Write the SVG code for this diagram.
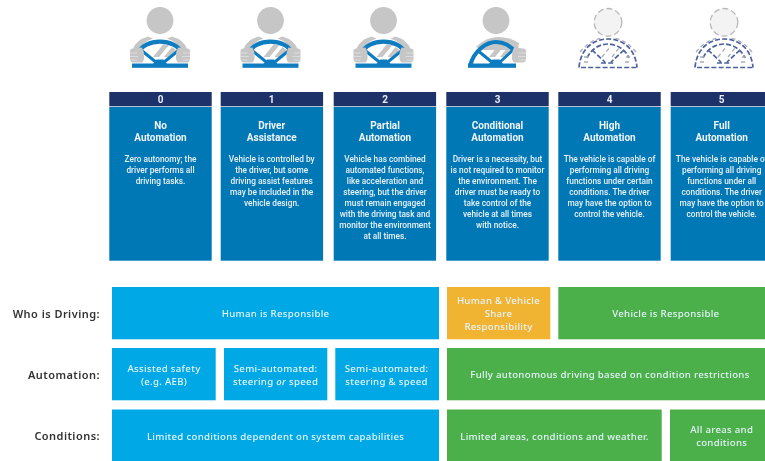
<svg xmlns="http://www.w3.org/2000/svg" width="765" height="461" viewBox="0 0 765 461">
<style>
.hd{fill:#1f3068}
.bd{fill:#0578b5}
.num{font:700 10px Roboto,"Liberation Sans",sans-serif;fill:#e8eef6;text-anchor:middle}
.tt{font:700 10px Roboto,"Liberation Sans",sans-serif;fill:#eef5fa;text-anchor:middle}
.tx{font:500 8.3px Roboto,"Liberation Sans",sans-serif;fill:#e6f1f8;text-anchor:middle}
.lb{font:600 11px "Noto Sans","Liberation Sans",sans-serif;letter-spacing:.45px;fill:#333;text-anchor:end}
.bt{font:500 9.65px "Noto Sans","Liberation Sans",sans-serif;letter-spacing:.3px;fill:#e4f4fb;text-anchor:middle}
.sky{fill:#00a9e6}.grn{fill:#4cb04a}.org{fill:#f0b433}
.gr{fill:#c6c6c6}
.wl{fill:none;stroke:#0f7cc0;stroke-width:4.200}
.sp{fill:none;stroke:#0f7cc0;stroke-width:3}
.ds{fill:none;stroke:#4d61a0;stroke-width:1.700;stroke-dasharray:5 2.200}
.dg{fill:none;stroke:#a9adba;stroke-width:1.300;stroke-dasharray:4 3}
</style>
<defs>
<filter id="soft" x="-2%" y="-2%" width="104%" height="104%"><feGaussianBlur stdDeviation="0.3"/></filter>
<g id="hand">
<path class="gr" d="M-30 51Q-30 48.500-27 48.500L-18 47.500Q-15.500 52-16 56Q-15.500 60-18 62.500L-27 62.500Q-30 62-30 59Z"/>
<path d="M-30 53H-23M-30 56.500H-22M-30 60H-23" stroke="#e2e2e2" stroke-width=".8" fill="none"/>
</g>
<g id="shoulder">
<path class="gr" d="M-27 49Q-24 40-12 36.500L-7 38.500Q-17 42-20.500 50Z"/>
</g>
<g id="dr">
<circle class="gr" cx="0" cy="20.500" r="13.400"/>
<use href="#shoulder"/>
<use href="#shoulder" transform="scale(-1 1)"/>
<path class="gr" d="M-7 57L3 44.500L9 45L-1 57ZM4 57L12 47L16 50L10 57Z"/>
<path class="wl" d="M-22 54C-16 37.500 16 37.500 22 54"/>
<path class="sp" d="M-19 50L-3 63M19 50L3 63"/>
<path fill="#0f7cc0" d="M-7 64L-3.500 59.500H3.500L7 64Z"/>
<rect x="-28" y="63.500" width="56" height="4.300" fill="#0f7cc0"/>
<use href="#hand"/>
<use href="#hand" transform="scale(-1 1)"/>
</g>
<g id="dr3">
<circle class="gr" cx="0" cy="20.500" r="13.400"/>
<path class="gr" d="M-20 47Q-10 37 2 37Q14 37 23 43L22 50L-14 50Z"/>
<path class="gr" d="M-7 57L3 44.500L9 45L-1 57ZM4 57L12 47L16 50L10 57Z"/>
<path class="wl" d="M-26 66C-22 50-9 42 0 42C8 42 15 46 20 53" />
<path class="sp" d="M-19 50L-3 63M17 50L3 63"/>
<path fill="#0f7cc0" d="M-7 64L-3.500 59.500H3.500L7 64Z"/>
<rect x="-28" y="63.500" width="48" height="4.300" fill="#0f7cc0"/>
<use href="#hand" transform="scale(-1 1)"/>
</g>
<g id="ghost">
<circle cx="0" cy="22.300" r="13.800" fill="#f3f3f3" stroke="#b9b9b9" stroke-width="1.300" stroke-dasharray="6 3"/>
<path class="ds" d="M-29 67.500C-27 46-12 39 0 39C12 39 27 46 29 67.500"/>
<path class="ds" d="M-27 67.500H29"/>
<path class="dg" d="M-28 52Q-18 40-6 38M28 52Q18 40 6 38"/>
<path class="ds" d="M-21 58C-16 47-6 44 0 44C6 44 16 47 21 58"/>
<path class="dg" d="M-24 62H-17M17 62H24M-24 57H-18M18 57H24"/>
<path class="ds" d="M-16 50L-3 62M16 50L3 62M-7 63H7"/>
<path class="dg" d="M-6 57L3 46M4 57L11 48"/>
</g>
</defs>
<g filter="url(#soft)">
<g id="driver-0"><use href="#dr" x="160"/></g>
<g id="driver-1"><use href="#dr" x="270.500"/></g>
<g id="driver-2"><use href="#dr" x="383.500"/></g>
<g id="driver-3"><use href="#dr3" x="496"/></g>
<g id="driver-4"><use href="#ghost" x="608"/></g>
<g id="driver-5"><use href="#ghost" x="724"/></g>

<g id="level-0">
<rect class="hd" x="109.300" y="92" width="102.400" height="14.300"/><rect class="bd" x="109.300" y="107" width="102.400" height="153.700"/>
<text class="num" x="160.500" y="103">0</text>
<text class="tt" x="160.500" y="129">No</text><text class="tt" x="160.500" y="141">Automation</text>
<text class="tx" x="160.500" y="161.500">Zero autonomy; the</text><text class="tx" x="160.500" y="172.600">driver performs all</text><text class="tx" x="160.500" y="183.700">driving tasks.</text>
</g>
<g id="level-1">
<rect class="hd" x="220.700" y="92" width="102.400" height="14.300"/><rect class="bd" x="220.700" y="107" width="102.400" height="153.700"/>
<text class="num" x="271.700" y="103">1</text>
<text class="tt" x="271.700" y="129">Driver</text><text class="tt" x="271.700" y="141">Assistance</text>
<text class="tx" x="271.700" y="161.500">Vehicle is controlled by</text><text class="tx" x="271.700" y="172.600">the driver, but some</text><text class="tx" x="271.700" y="183.700">driving assist features</text><text class="tx" x="271.700" y="194.800">may be included in the</text><text class="tx" x="271.700" y="205.900">vehicle design.</text>
</g>
<g id="level-2">
<rect class="hd" x="333.700" y="92" width="102.400" height="14.300"/><rect class="bd" x="333.700" y="107" width="102.400" height="153.700"/>
<text class="num" x="385" y="103">2</text>
<text class="tt" x="385" y="129">Partial</text><text class="tt" x="385" y="141">Automation</text>
<text class="tx" x="385" y="161.500">Vehicle has combined</text><text class="tx" x="385" y="172.600">automated functions,</text><text class="tx" x="385" y="183.700">like acceleration and</text><text class="tx" x="385" y="194.800">steering, but the driver</text><text class="tx" x="385" y="205.900">must remain engaged</text><text class="tx" x="385" y="217">with the driving task and</text><text class="tx" x="385" y="228.100">monitor the environment</text><text class="tx" x="385" y="239.200">at all times.</text>
</g>
<g id="level-3">
<rect class="hd" x="446.300" y="92" width="102.400" height="14.300"/><rect class="bd" x="446.300" y="107" width="102.400" height="153.700"/>
<text class="num" x="497.500" y="103">3</text>
<text class="tt" x="497.500" y="129">Conditional</text><text class="tt" x="497.500" y="141">Automation</text>
<text class="tx" x="497.500" y="161.500">Driver is a necessity, but</text><text class="tx" x="497.500" y="172.600">is not required to monitor</text><text class="tx" x="497.500" y="183.700">the environment. The</text><text class="tx" x="497.500" y="194.800">driver must be ready to</text><text class="tx" x="497.500" y="205.900">take control of the</text><text class="tx" x="497.500" y="217">vehicle at all times</text><text class="tx" x="497.500" y="228.100">with notice.</text>
</g>
<g id="level-4">
<rect class="hd" x="558.300" y="92" width="102.400" height="14.300"/><rect class="bd" x="558.300" y="107" width="102.400" height="153.700"/>
<text class="num" x="609.500" y="103">4</text>
<text class="tt" x="609.500" y="129">High</text><text class="tt" x="609.500" y="141">Automation</text>
<text class="tx" x="609.500" y="161.500">The vehicle is capable of</text><text class="tx" x="609.500" y="172.600">performing all driving</text><text class="tx" x="609.500" y="183.700">functions under certain</text><text class="tx" x="609.500" y="194.800">conditions. The driver</text><text class="tx" x="609.500" y="205.900">may have the option to</text><text class="tx" x="609.500" y="217">control the vehicle.</text>
</g>
<g id="level-5">
<rect class="hd" x="670.700" y="92" width="102.400" height="14.300"/><rect class="bd" x="670.700" y="107" width="102.400" height="153.700"/>
<text class="num" x="721.700" y="103">5</text>
<text class="tt" x="721.700" y="129">Full</text><text class="tt" x="721.700" y="141">Automation</text>
<text class="tx" x="721.700" y="161.500">The vehicle is capable of</text><text class="tx" x="721.700" y="172.600">performing all driving</text><text class="tx" x="721.700" y="183.700">functions under all</text><text class="tx" x="721.700" y="194.800">conditions. The driver</text><text class="tx" x="721.700" y="205.900">may have the option to</text><text class="tx" x="721.700" y="217">control the vehicle.</text>
</g>

<g id="row-labels">
<text class="lb" x="100" y="317.500">Who is Driving:</text>
<text class="lb" x="100" y="379">Automation:</text>
<text class="lb" x="100" y="440">Conditions:</text>
</g>
<g id="who-human"><rect class="sky" x="112" y="287" width="327" height="52.300"/><text class="bt" x="275.600" y="316.500">Human is Responsible</text></g>
<g id="who-shared"><rect class="org" x="447" y="287" width="103.300" height="52.300"/><text class="bt" x="498.500" y="304">Human &amp; Vehicle</text><text class="bt" x="498.500" y="317">Share</text><text class="bt" x="498.500" y="330">Responsibility</text></g>
<g id="who-vehicle"><rect class="grn" x="558.300" y="287" width="210" height="52.300"/><text class="bt" x="665.800" y="316.500">Vehicle is Responsible</text></g>
<g id="auto-safety"><rect class="sky" x="112" y="348" width="103.700" height="52.300"/><text class="bt" x="164" y="372">Assisted safety</text><text class="bt" x="164" y="385">(e.g. AEB)</text></g>
<g id="auto-semi-or"><rect class="sky" x="224" y="348" width="103.300" height="52.300"/><text class="bt" x="275.600" y="372">Semi-automated:</text><text class="bt" x="275.600" y="385">steering <tspan font-style="italic">or</tspan> speed</text></g>
<g id="auto-semi-and"><rect class="sky" x="335.300" y="348" width="103.700" height="52.300"/><text class="bt" x="386.500" y="372">Semi-automated:</text><text class="bt" x="386.500" y="385">steering &amp; speed</text></g>
<g id="auto-full"><rect class="grn" x="447" y="348" width="321" height="52.300"/><text class="bt" x="610" y="378">Fully autonomous driving based on condition restrictions</text></g>
<g id="cond-limited"><rect class="sky" x="112" y="409.500" width="327" height="55"/><text class="bt" x="275.600" y="439.500">Limited conditions dependent on system capabilities</text></g>
<g id="cond-areas"><rect class="grn" x="447" y="409.500" width="214.700" height="55"/><text class="bt" x="554.500" y="439.500">Limited areas, conditions and weather.</text></g>
<g id="cond-all"><rect class="grn" x="670" y="409.500" width="98" height="55"/><text class="bt" x="721.700" y="433">All areas and</text><text class="bt" x="721.700" y="446">conditions</text></g>
</g>
</svg>
